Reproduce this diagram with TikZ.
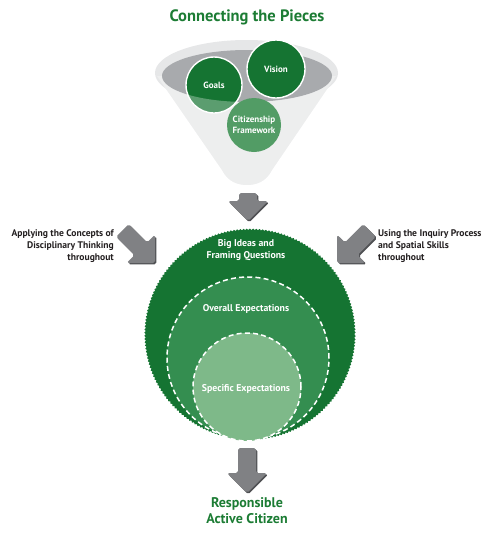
\documentclass[tikz,border=0pt]{standalone}
\usepackage{fontspec}
\setmainfont{PT Sans}
\usetikzlibrary{decorations.pathmorphing}
\definecolor{dkgreen}{RGB}{21,116,50}
\definecolor{midgreen}{RGB}{52,142,80}
\definecolor{ltgreen}{RGB}{126,185,137}
\definecolor{citgreen}{RGB}{82,156,101}
\definecolor{txtgreen}{RGB}{28,124,52}
\definecolor{arrgray}{RGB}{128,129,132}
\definecolor{arrshadow}{RGB}{80,81,84}
\definecolor{funnelgray}{RGB}{230,231,232}
\definecolor{rimgray}{RGB}{168,170,173}
\definecolor{sidetextcol}{RGB}{35,31,32}
\newcommand{\grayarrowpath}[1]{(0,0) -- (-20,-20) -- (-9,-20) -- (-9,-#1) -- (9,-#1) -- (9,-20) -- (20,-20) -- cycle}
\begin{document}
\begin{tikzpicture}[x=1pt,y=-1pt,
  piece/.style={circle, inner sep=0pt, draw=white, line width=1.4pt, text=white,
    font=\bfseries\fontsize{9}{11}\selectfont, align=center},
  ringlbl/.style={text=white, font=\bfseries\fontsize{9.8}{12}\selectfont, align=center, inner sep=0pt},
  sidetext/.style={text=sidetextcol, font=\bfseries\fontsize{9.6}{12}\selectfont, inner sep=0pt},
  greentitle/.style={text=txtgreen, font=\bfseries\fontsize{16.5}{18}\selectfont, inner sep=0pt},
  arrowbody/.style={fill=arrgray, rounded corners=1.8pt},
  arrowshade/.style={fill=arrshadow, rounded corners=1.8pt},
  dashring/.style={draw=white, line width=1.5pt, dash pattern=on 5pt off 3.2pt}
]
\useasboundingbox (0,0) rectangle (496,533);

% title
\node[greentitle] (title) at (247,17) {Connecting the Pieces};

% funnel
\fill[funnelgray] (246.5,73) ellipse [x radius=91.5pt, y radius=33pt];
\fill[funnelgray] (155,73) -- (222,170) .. controls (228,182) and (238,185) .. (247,185)
   .. controls (256,185) and (266,182) .. (272,170) -- (338,73) -- cycle;
\fill[rimgray] (247,76) ellipse [x radius=85pt, y radius=26pt];

\node[piece, fill=dkgreen, minimum size=56pt] (goals) at (214,85) {Goals};
\node[piece, fill=dkgreen, minimum size=58pt] (vision) at (276,69) {Vision};

% translucent front of funnel
\begin{scope}
  \clip (0,76) rectangle (496,200);
  \fill[white, opacity=0.3, even odd rule]
     (155,73) -- (222,170) .. controls (228,182) and (238,185) .. (247,185)
     .. controls (256,185) and (266,182) .. (272,170) -- (338,73) -- cycle
     (247,76) ellipse [x radius=85pt, y radius=26pt];
\end{scope}

\node[piece, fill=citgreen, draw=none, minimum size=54pt] (citizen) at (254,125) {Citizenship\\Framework};

% arrow from funnel
\begin{scope}[xshift=1.3pt, yshift=-1.3pt, shift={(248,221)}]
  \fill[arrowshade] \grayarrowpath{28};
\end{scope}
\begin{scope}[shift={(248,221)}]
  \fill[arrowbody] \grayarrowpath{28};
\end{scope}

% big circles
\fill[dkgreen, decorate, decoration={snake, segment length=3.2pt, amplitude=0.7pt}]
   (250,335) circle (105pt);
\fill[midgreen] (248,358) circle (81pt);
\draw[dashring] (248,358) circle (81pt);
\fill[ltgreen] (247,387) circle (54pt);
\draw[dashring] (247,387) circle (54pt);

\node[ringlbl] (bigideas) at (246,250) {Big Ideas and\\Framing Questions};
\node[ringlbl] (overall) at (246,309) {Overall Expectations};
\node[ringlbl] (specific) at (246,389) {Specific Expectations};

% side arrows
\begin{scope}[xshift=1.3pt, yshift=-1.3pt, shift={(155,263)}, rotate=45]
  \fill[arrowshade] \grayarrowpath{46};
\end{scope}
\begin{scope}[shift={(155,263)}, rotate=45]
  \fill[arrowbody] \grayarrowpath{46};
\end{scope}
\begin{scope}[xshift=1.3pt, yshift=-1.3pt, shift={(337,263)}, rotate=-45]
  \fill[arrowshade] \grayarrowpath{46};
\end{scope}
\begin{scope}[shift={(337,263)}, rotate=-45]
  \fill[arrowbody] \grayarrowpath{46};
\end{scope}

\node[sidetext, align=right, anchor=east] (lefttext) at (114,246)
  {Applying the Concepts of\\Disciplinary Thinking\\throughout};
\node[sidetext, align=left, anchor=west] (righttext) at (378,246)
  {Using the Inquiry Process\\and Spatial Skills\\throughout};

% bottom arrow
\begin{scope}[xshift=1.3pt, yshift=-1.3pt, shift={(247,493)}]
  \fill[arrowshade] \grayarrowpath{45};
\end{scope}
\begin{scope}[shift={(247,493)}]
  \fill[arrowbody] \grayarrowpath{45};
\end{scope}

\node[greentitle, font=\bfseries\fontsize{14}{16}\selectfont, align=center] (result) at (247,511)
  {Responsible\\Active Citizen};
\end{tikzpicture}
\end{document}
